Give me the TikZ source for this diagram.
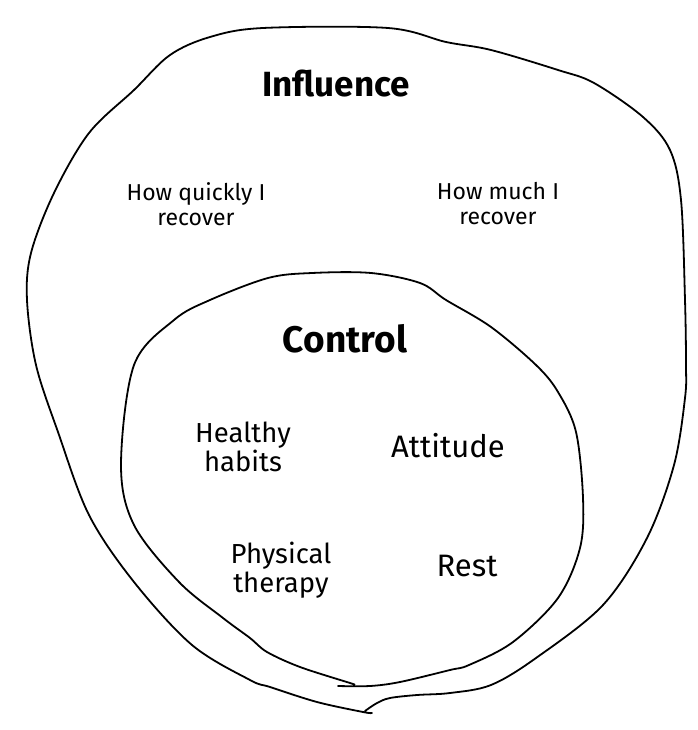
\documentclass[tikz,border=0pt]{standalone}
\usepackage{fontspec}
\setmainfont{Fira Sans}
\begin{document}
\begin{tikzpicture}[x=1pt,y=-1pt,
  blob/.style={draw=black,line width=1.8pt,line join=round,line cap=round},
  title/.style={font=\fontsize{35}{38}\selectfont\bfseries},
  ctitle/.style={font=\fontsize{37}{40}\selectfont\bfseries},
  small/.style={font=\fontsize{23}{25}\selectfont,align=center},
  mid/.style={font=\fontsize{27.5}{29}\selectfont,align=center},
  big/.style={font=\fontsize{31}{33}\selectfont,align=center}]
\useasboundingbox (0,0) rectangle (697,730);
% outer curve (influence)
\draw[blob] plot[smooth,tension=0.55] coordinates {
 (372,713) (363,712) (317,702) (270,687) (250,680) (192,645) (134,582) (89,515)
 (58,432) (36,365) (27,300) (31,253) (54,193) (89,133) (134,90) (170,55)
 (210,37) (263,28) (388,28) (446,42) (491,50) (558,70) (594,83) (643,117)
 (670,150) (681,200) (685,300) (686,365) (685,398) (674,465) (647,538)
 (603,605) (536,658) (491,685) (450,693) (417,695) (390,698) (377,703) (365,711)};
% inner curve (control)
\draw[blob] plot[smooth,tension=0.55] coordinates {
 (353,684) (350,683) (300,667) (267,652) (250,638) (223,618) (179,582)
 (134,525) (121,465) (134,365) (174,320) (210,300) (268,278) (312,273)
 (371,273) (420,283) (446,300) (491,327) (536,365) (558,392) (576,432)
 (583,498) (580,548) (558,598) (513,642) (469,665) (450,670) (400,682)
 (370,686) (338,686)};
\node[title] (infl) at (336,84) {Influence};
\node[ctitle] (ctrl) at (345,339) {Control};
\node[small] (quick) at (196,204) {How quickly I\\recover};
\node[small] (much) at (498,204) {How much I\\recover};
\node[mid] (habits) at (243,447) {Healthy\\habits};
\node[big] (att) at (448,446) {Attitude};
\node[mid] (phys) at (281,570) {Physical\\therapy};
\node[big] (rest) at (467,566) {Rest};
\end{tikzpicture}
\end{document}
